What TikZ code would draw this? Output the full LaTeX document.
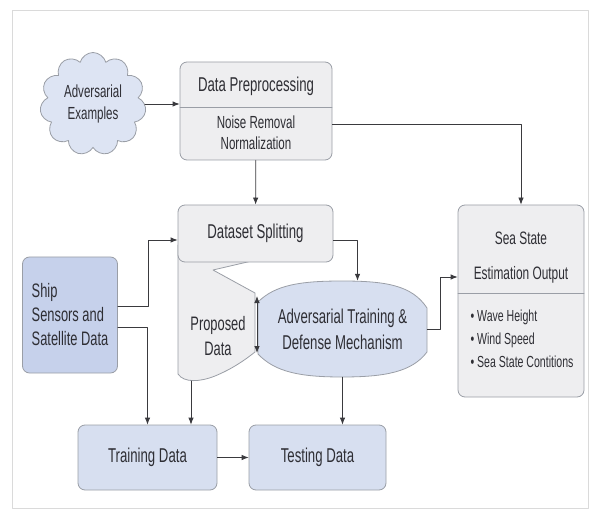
\documentclass[tikz,border=0pt]{standalone}
\usepackage{fontspec}
\setsansfont[FakeStretch=0.66]{Liberation Sans}
\usepackage{xcolor}
\definecolor{ssgrey}{HTML}{EEEEF0}
\definecolor{ssblue}{HTML}{D7DFF0}
\definecolor{ssdeep}{HTML}{C6D1EB}
\definecolor{sscloud}{HTML}{DDE4F3}
\definecolor{ssedge}{HTML}{9A9EA6}
\definecolor{ssline}{HTML}{3A3A3E}
\definecolor{sstext}{HTML}{2E2E34}
\definecolor{ssframe}{HTML}{DADADA}
\usepackage{tikz}
\usetikzlibrary{arrows.meta,shapes.symbols}
\tikzset{
  >={Latex[length=7pt,width=5.5pt]},
  every picture/.style={line cap=round, line join=round},
  lbl/.style={font=\sffamily\fontsize{20}{24}\selectfont, text=sstext},
  midlbl/.style={font=\sffamily\fontsize{17.5}{21}\selectfont, text=sstext},
  smalllbl/.style={font=\sffamily\fontsize{16}{23}\selectfont, text=sstext},
  edge/.style={draw=ssedge, line width=0.8pt},
  greybox/.style={edge, fill=ssgrey, rounded corners=7pt},
  bluebox/.style={edge, fill=ssblue, rounded corners=7pt},
  flow/.style={draw=ssline, line width=0.8pt, ->},
}

\begin{document}
\begin{tikzpicture}[x=1pt, y=-1pt]
\useasboundingbox (0,0) rectangle (596,518);
% frame
\draw[ssframe, line width=0.8pt] (12,10) rectangle (588,508);
% inputs
\node[cloud, cloud puffs=11, aspect=1.05, edge, fill=sscloud,
  minimum width=104pt, minimum height=98pt, align=center,
  text=sstext, font=\sffamily\fontsize{17.5}{22}\selectfont] (advex) at (93,104) {Adversarial\\Examples};
\node[bluebox, fill=ssdeep, minimum width=95pt, minimum height=116pt, align=left,
  text=sstext, font=\sffamily\fontsize{19.5}{24}\selectfont] (ship) at (70,315) {Ship\\Sensors and\\Satellite Data};
% preprocessing
\node[greybox, minimum width=152pt, minimum height=98pt] (prep) at (256,111) {};
\node[lbl] (preptitle) at (256,86) {Data Preprocessing};
\draw[edge] (180,107) -- (332,107);
\node[midlbl, align=center] (prepbody) at (256,132.5) {Noise Removal\\Normalization};
% proposed data under the splitting box
\path[fill=ssgrey] (178,245) -- (178,374) .. controls (184,383) and (200,382) .. (215,376)
  .. controls (232,369) and (245,360) .. (255,352) -- (255,293) -- (213,270) -- (256,260) -- (256,245) -- cycle;
\draw[edge] (178,245) -- (178,374) .. controls (184,383) and (200,382) .. (215,376)
  .. controls (232,369) and (245,360) .. (255,352) -- (255,293) -- (213,270) -- (256,260);
\node[greybox, minimum width=155pt, minimum height=57pt, lbl] (dsplit) at (255.5,233.5) {Dataset Splitting};
\node[lbl, align=center, font=\sffamily\fontsize{19.5}{25}\selectfont] (propd) at (218,336) {Proposed\\Data};
\coordinate (pdhi) at (257,296);
\coordinate (pdlo) at (257,353);
\coordinate (pdfoot) at (191,381);
% adversarial training
\path[edge, fill=ssblue] (258,302) .. controls (275,285) and (300,281) .. (342,281)
  .. controls (385,281) and (412,285) .. (427,308) -- (427,352)
  .. controls (412,372) and (385,377) .. (342,377)
  .. controls (300,377) and (275,372) .. (258,354) -- cycle;
\node[minimum width=169pt, minimum height=96pt, align=center, text=sstext,
  font=\sffamily\fontsize{20}{26}\selectfont] (advt) at (342.5,329) {Adversarial Training \&\\Defense Mechanism};
% output
\node[greybox, minimum width=126pt, minimum height=192pt] (sea) at (521,301) {};
\draw[edge] (458,293) -- (584,293);
\node[lbl, align=center, font=\sffamily\fontsize{18}{35}\selectfont] (seatitle) at (521,257.5) {Sea State\\Estimation Output};
\node[smalllbl, align=left] (seaitems) at (522,339) {\textbullet\ Wave Height\\\textbullet\ Wind Speed\\\textbullet\ Sea State Contitions};
% training and testing
\node[bluebox, minimum width=139pt, minimum height=65pt, lbl] (train) at (147.5,457.5) {Training Data};
\node[bluebox, minimum width=137pt, minimum height=65pt, lbl] (test) at (317.5,457.5) {Testing Data};
% connectors
\draw[flow] (advex.east) -- (prep.west |- advex.east);
\draw[flow] (prep) -- (dsplit);
\draw[flow] ([yshift=-13pt]prep.east) -| (sea.north);
\draw[flow] ([yshift=9pt]ship.east) -- ++(30,0) |- ([yshift=-6.5pt]dsplit.west);
\draw[flow] ([yshift=-12pt]ship.east) -| (train.north);
\draw[flow] ([yshift=-6.5pt]dsplit.east) -| ([xshift=15pt]advt.north);
\draw[flow] (advt.east) -- ++(13,0) |- ([yshift=24pt]sea.west);
\draw[flow, <->] (pdhi) -- (pdlo);
\draw[flow] (pdfoot) -- (pdfoot |- train.north);
\draw[flow] (advt.south) -- (advt.south |- test.north);
\draw[flow] (train) -- (test);
\end{tikzpicture}
\end{document}
